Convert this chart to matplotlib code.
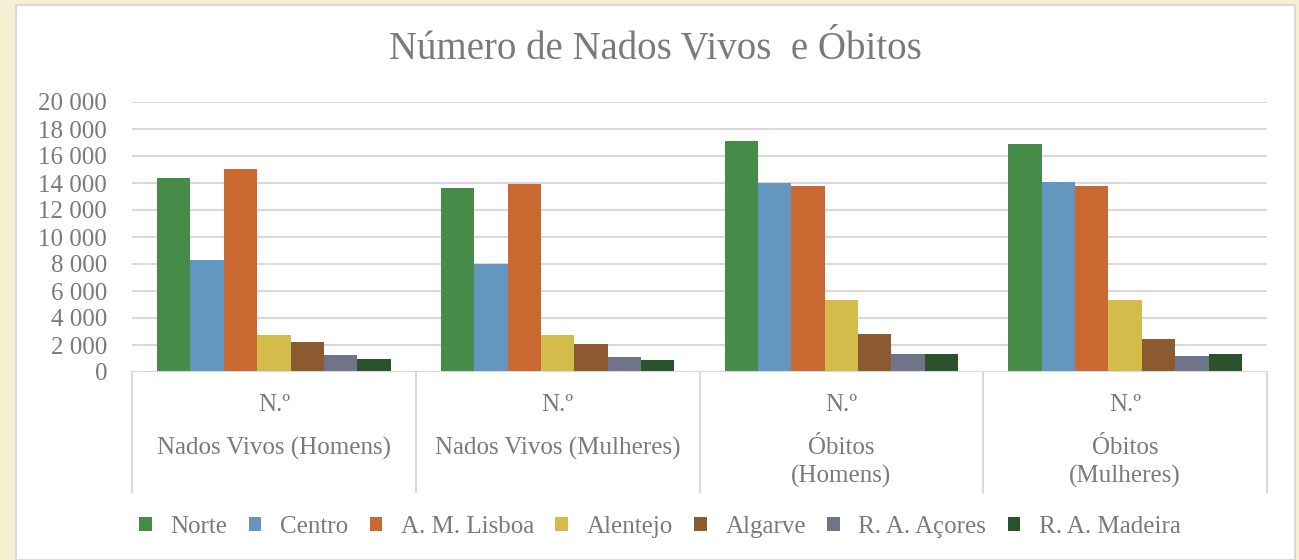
import numpy as np
import matplotlib.pyplot as plt
import matplotlib.transforms as mtransforms
from matplotlib.patches import Rectangle
from matplotlib.ticker import FuncFormatter

plt.rcParams.update({
    "font.family": ["Liberation Serif", "DejaVu Serif"],
    "font.size": 18,
})

# Data
categories = ["Nados Vivos (Homens)", "Nados Vivos (Mulheres)", "Óbitos\n(Homens)", "Óbitos\n(Mulheres)"]
top_label = "N.º"
regions = ["Norte", "Centro", "A. M. Lisboa", "Alentejo", "Algarve", "R. A. Açores", "R. A. Madeira"]
norte = [14390, 13650, 17140, 16900]
centro = [8290, 7970, 13970, 14100]
lisboa = [15030, 13950, 13800, 13780]
alentejo = [2750, 2730, 5310, 5360]
algarve = [2190, 2070, 2800, 2440]
acores = [1230, 1100, 1300, 1160]
madeira = [980, 900, 1330, 1330]
series = [norte, centro, lisboa, alentejo, algarve, acores, madeira]
colors = ["#478b48", "#6596bf", "#c96830", "#d4bc4a", "#8c5a2f", "#6f7488", "#2b532b"]
yticks = np.arange(0, 20001, 2000)

W, H = 1299, 560
GREY = "#7a7a7a"
LINE = "#d9d9d9"

fig = plt.figure(figsize=(W / 100, H / 100), dpi=100, facecolor="#f6efd4")
# white chart panel
fig.patches.append(Rectangle((16 / W, 0), (1295 - 16) / W, 1 - 5 / H, transform=fig.transFigure,
                             facecolor="white", edgecolor=LINE, linewidth=1.5, zorder=-1))

x0, x1, ytop, ybot = 132, 1267, 102, 372
ax = fig.add_axes([x0 / W, 1 - ybot / H, (x1 - x0) / W, (ybot - ytop) / H])
ax.set_facecolor("none")
ax.set_zorder(2)

n = len(series)
width = 1 / (n + 1.5)
x = np.arange(len(categories))
for i, (vals, c, name) in enumerate(zip(series, colors, regions)):
    ax.bar(x + (i - (n - 1) / 2) * width, vals, width, color=c, label=name, linewidth=0, zorder=3)

ax.set_xlim(-0.5, len(categories) - 0.5)
ax.set_ylim(0, 20000)
ax.set_yticks(yticks)
ax.yaxis.set_major_formatter(FuncFormatter(lambda v, p: f"{int(v):,}".replace(",", " ")))
ax.tick_params(axis="y", length=0, pad=18, labelcolor=GREY, labelsize=18)
ax.set_xticks([])
ax.yaxis.grid(True, color=LINE, linewidth=1.5, zorder=0)
ax.set_axisbelow(True)
for s in ax.spines.values():
    s.set_visible(False)
ax.axhline(0, color=LINE, linewidth=1.5, zorder=4)

# category separators below the axis
blend = mtransforms.blended_transform_factory(ax.transData, ax.transAxes)
ysep = (ybot - 492) / (ybot - ytop)
for b in np.arange(len(categories) + 1) - 0.5:
    ax.plot([b, b], [0, ysep], color=LINE, linewidth=1.5, transform=blend, clip_on=False)

def ay(py):
    return (ybot - py) / (ybot - ytop)

for xi, cat in zip(x, categories):
    ax.text(xi, ay(405), top_label, transform=blend, ha="center", va="center", color=GREY, fontsize=18)
    for k, line in enumerate(cat.split("\n")):
        ax.text(xi, ay(448 + 28 * k), line, transform=blend, ha="center", va="center",
                color=GREY, fontsize=18)

fig.text(655.5 / W, 1 - 50 / H, "Número de Nados Vivos  e Óbitos", ha="center", va="center",
         color=GREY, fontsize=28)

handles, labels = ax.get_legend_handles_labels()
leg = fig.legend(handles, labels, loc="center", bbox_to_anchor=(660 / W, 1 - 527 / H), ncol=7,
                 frameon=False, fontsize=18, handlelength=0.5, handleheight=0.5,
                 handletextpad=0.75, columnspacing=0.85, labelcolor=GREY)

fig.savefig("out.png", dpi=100, facecolor=fig.get_facecolor())
